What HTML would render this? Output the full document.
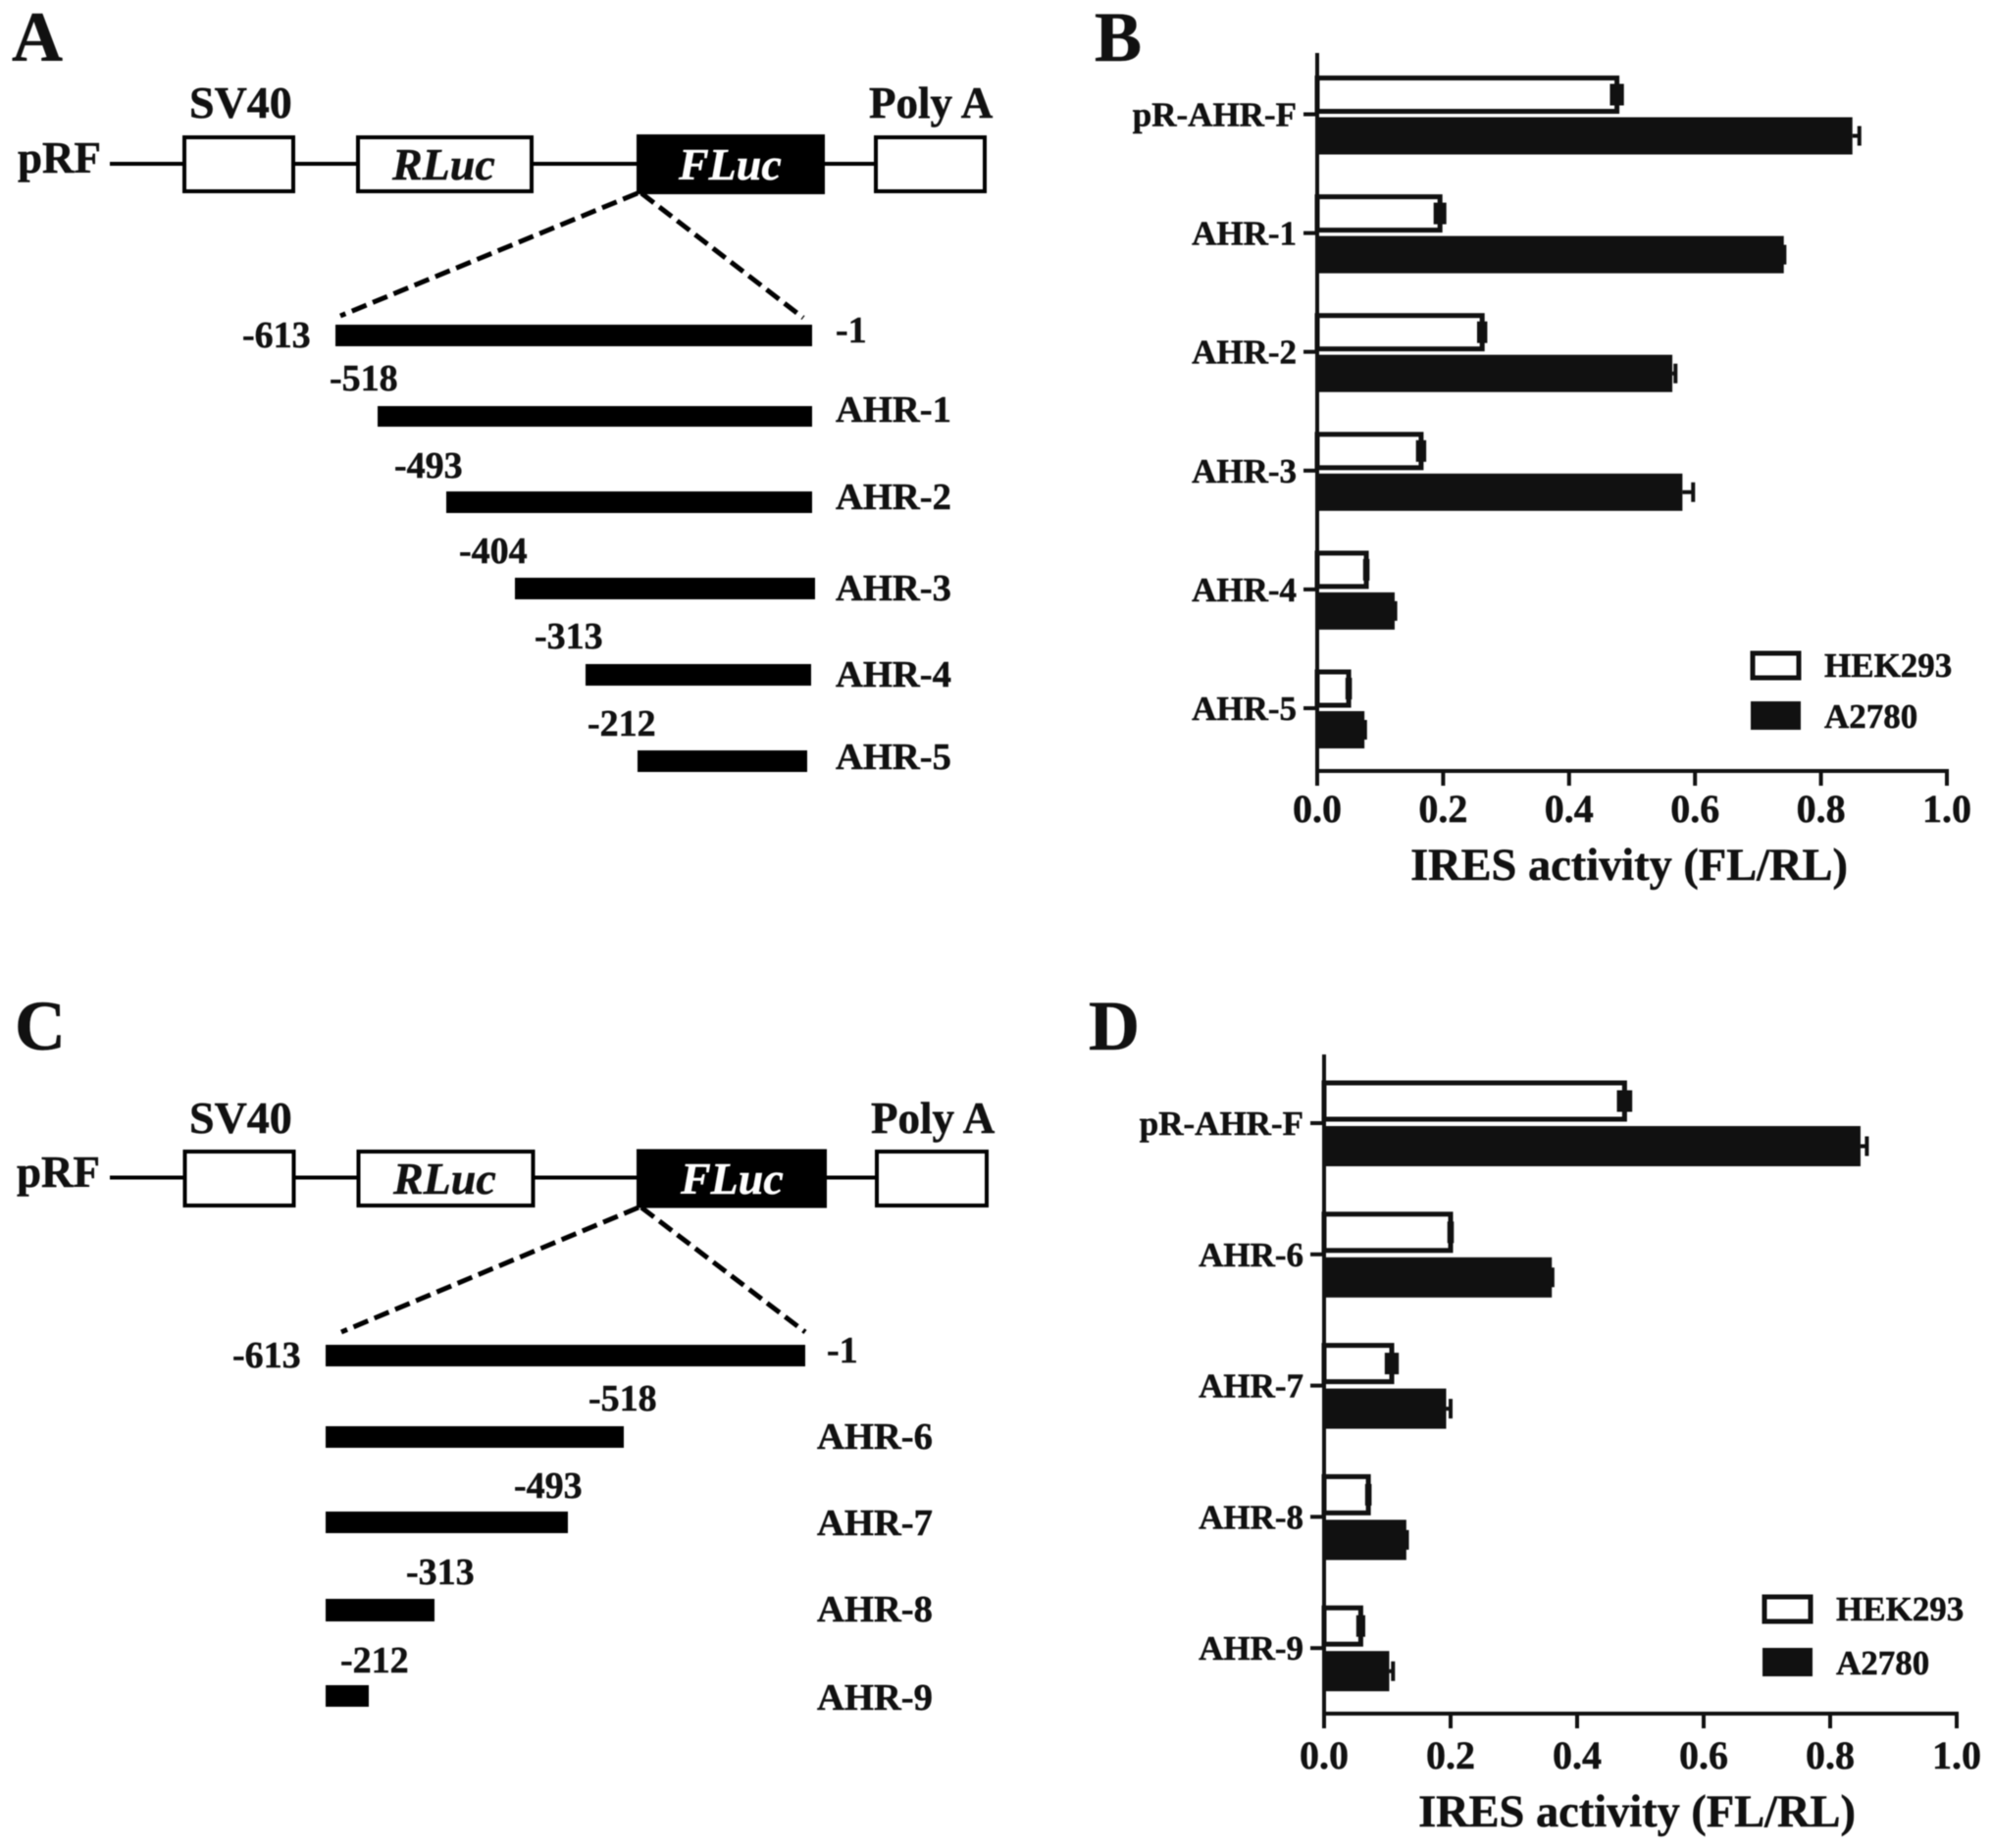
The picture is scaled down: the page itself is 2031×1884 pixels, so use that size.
<!DOCTYPE html>
<html>
<head>
<meta charset="utf-8">
<title>AHR IRES activity figure</title>
<style>
html,body{margin:0;padding:0;background:#fff;}
svg{display:block;filter:blur(.6px);}
text{font-family:"Liberation Serif",serif;font-weight:bold;fill:#111;stroke:#111;stroke-width:.5px;}
</style>
</head>
<body>
<svg id="fig" xmlns="http://www.w3.org/2000/svg" width="2031" height="1884" viewBox="0 0 2031 1884">
<rect x="0" y="0" width="2031" height="1884" fill="#fff"/>

<g>
<text x="12" y="62" font-size="72">A</text>
<text x="193" y="120" font-size="46">SV40</text>
<text x="886" y="120" font-size="45">Poly A</text>
<text x="18" y="176" font-size="45">pRF</text>
<line x1="112" y1="167" x2="895" y2="167" stroke="#000" stroke-width="4"/>
<rect x="188" y="140" width="111" height="55" fill="#fff" stroke="#000" stroke-width="4"/>
<rect x="365" y="140" width="177" height="55" fill="#fff" stroke="#000" stroke-width="4"/>
<rect x="649" y="137" width="192" height="61" fill="#000"/>
<rect x="893" y="140" width="111" height="55" fill="#fff" stroke="#000" stroke-width="4"/>
<text x="400" y="183" font-size="46" font-style="italic">RLuc</text>
<text x="692" y="183" font-size="46" font-style="italic" style="fill:#fff;stroke:#fff">FLuc</text>
<line x1="650" y1="197" x2="347" y2="322" stroke="#000" stroke-width="5" stroke-dasharray="16 7"/>
<line x1="654" y1="197" x2="819" y2="324" stroke="#000" stroke-width="5" stroke-dasharray="16 7"/>
<rect x="342" y="331" width="486" height="22" fill="#000"/>
<rect x="385" y="414" width="443" height="21" fill="#000"/>
<rect x="455" y="501" width="373" height="22" fill="#000"/>
<rect x="525" y="589" width="306" height="22" fill="#000"/>
<rect x="597" y="677" width="230" height="22" fill="#000"/>
<rect x="650" y="765" width="173" height="22" fill="#000"/>
<text x="247" y="354" font-size="38">-613</text>
<text x="852" y="349" font-size="38">-1</text>
<text x="336" y="398" font-size="38">-518</text>
<text x="852" y="430" font-size="38.6">AHR-1</text>
<text x="402" y="487" font-size="38">-493</text>
<text x="852" y="519" font-size="38.6">AHR-2</text>
<text x="468" y="574" font-size="38">-404</text>
<text x="852" y="612" font-size="38.6">AHR-3</text>
<text x="545" y="661" font-size="38">-313</text>
<text x="852" y="700" font-size="38.6">AHR-4</text>
<text x="599" y="750" font-size="38">-212</text>
<text x="852" y="784" font-size="38.6">AHR-5</text>
</g>

<g>
<text x="15" y="1070" font-size="72">C</text>
<text x="193" y="1155" font-size="46">SV40</text>
<text x="888" y="1155" font-size="45">Poly A</text>
<text x="17" y="1210" font-size="45">pRF</text>
<line x1="112" y1="1200.5" x2="896" y2="1200.5" stroke="#000" stroke-width="4"/>
<rect x="188.5" y="1174" width="111" height="55" fill="#fff" stroke="#000" stroke-width="4"/>
<rect x="365.5" y="1174" width="178" height="55" fill="#fff" stroke="#000" stroke-width="4"/>
<rect x="649" y="1171.5" width="194" height="60" fill="#000"/>
<rect x="894" y="1174" width="112" height="55" fill="#fff" stroke="#000" stroke-width="4"/>
<text x="401" y="1217" font-size="46" font-style="italic">RLuc</text>
<text x="694" y="1217" font-size="46" font-style="italic" style="fill:#fff;stroke:#fff">FLuc</text>
<line x1="651" y1="1231" x2="348" y2="1358" stroke="#000" stroke-width="5" stroke-dasharray="16 7"/>
<line x1="654" y1="1231" x2="821" y2="1358" stroke="#000" stroke-width="5" stroke-dasharray="16 7"/>
<rect x="332" y="1371" width="489" height="22" fill="#000"/>
<rect x="332" y="1454" width="304" height="22" fill="#000"/>
<rect x="332" y="1541" width="247" height="22" fill="#000"/>
<rect x="332" y="1630" width="111" height="23" fill="#000"/>
<rect x="332" y="1718" width="44" height="22" fill="#000"/>
<text x="237" y="1394" font-size="38">-613</text>
<text x="843" y="1389" font-size="38">-1</text>
<text x="600" y="1438" font-size="38">-518</text>
<text x="833" y="1477" font-size="38.6">AHR-6</text>
<text x="524" y="1527" font-size="38">-493</text>
<text x="833" y="1565" font-size="38.6">AHR-7</text>
<text x="414" y="1615" font-size="38">-313</text>
<text x="833" y="1653" font-size="38.6">AHR-8</text>
<text x="347" y="1705" font-size="38">-212</text>
<text x="833" y="1743" font-size="38.6">AHR-9</text>
</g>

<text x="1116" y="62" font-size="72">B</text>
<text x="1110" y="1070" font-size="72">D</text>
<g id="chart-b"></g>
<g id="chart-d"></g>
</svg>

<script>
// Panel B data
const catsB = ['pR-AHR-F', 'AHR-1', 'AHR-2', 'AHR-3', 'AHR-4', 'AHR-5'];
const hekB = [0.476, 0.195, 0.262, 0.165, 0.078, 0.050];
const a2780B = [0.850, 0.741, 0.564, 0.580, 0.123, 0.075];
const hekErrB = [0.008, 0.007, 0.005, 0.005, 0.002, 0.002];
const a2780ErrB = [0.011, 0.001, 0.005, 0.017, 0.001, 0.001];
// Panel D data
const catsD = ['pR-AHR-F', 'AHR-6', 'AHR-7', 'AHR-8', 'AHR-9'];
const hekD = [0.475, 0.200, 0.107, 0.070, 0.058];
const a2780D = [0.848, 0.360, 0.193, 0.130, 0.103];
const hekErrD = [0.009, 0.002, 0.008, 0.002, 0.004];
const a2780ErrD = [0.010, 0.001, 0.007, 0.001, 0.006];
// Shared axis
const xTicks = [0.0, 0.2, 0.4, 0.6, 0.8, 1.0];
const xTitle = 'IRES activity (FL/RL)';
const legendLabels = ['HEK293', 'A2780'];

const NS = 'http://www.w3.org/2000/svg';
function mk(parent, tag, attrs, txt) {
  const e = document.createElementNS(NS, tag);
  for (const k in attrs) e.setAttribute(k, attrs[k]);
  if (txt !== undefined) e.textContent = txt;
  parent.appendChild(e);
  return e;
}

function drawChart(rootId, cfg, cats, hek, a2780, hekErr, a2780Err) {
  const root = document.getElementById(rootId);
  const xs = v => cfg.x0 + (cfg.x1 - cfg.x0) * v;
  const ys = i => cfg.firstTick + cfg.step * i;
  const ink = '#111';

  cats.forEach((c, i) => {
    const t = mk(root, 'text', {x: cfg.x0 - 21, y: ys(i) + 12, 'font-size': 35, 'text-anchor': 'end'}, c);
    
    

    const tick = mk(root, 'line', {x1: cfg.x0 - 14, x2: cfg.x0, y1: ys(i), y2: ys(i), stroke: ink, 'stroke-width': 4});
    
    

    const wBar = mk(root, 'rect', {x: cfg.x0, y: ys(i) + cfg.hekTop + 2, width: xs(hek[i]) - cfg.x0, height: cfg.barH - 4, fill: '#fff', stroke: ink, 'stroke-width': 5});
    
    

    const bBar = mk(root, 'rect', {x: cfg.x0, y: ys(i) + cfg.aTop, width: xs(a2780[i]) - cfg.x0, height: cfg.barH, fill: ink});
    
    

    const hy = ys(i) + cfg.hekTop + cfg.barH / 2;
    const hLo = xs(hek[i] - hekErr[i]);
    const hHi = xs(hek[i] + hekErr[i]);
    const he = mk(root, 'rect', {x: hLo - 2, y: hy - 11, width: hHi - hLo + 4, height: 22, fill: ink});
    
    

    const ay = ys(i) + cfg.aTop + cfg.barH / 2;
    const aHi = xs(a2780[i] + a2780Err[i]);
    const ae = mk(root, 'path', {d: 'M' + xs(a2780[i]) + ' ' + ay + 'H' + aHi + 'M' + aHi + ' ' + (ay - 10) + 'v20', stroke: ink, 'stroke-width': 4, fill: 'none'});
    
    
  });

  const yAxis = mk(root, 'line', {x1: cfg.x0, x2: cfg.x0, y1: cfg.top, y2: cfg.bottom + 15, stroke: ink, 'stroke-width': 4});
  
  

  const xAxis = mk(root, 'line', {x1: cfg.x0, x2: cfg.x1 + 2, y1: cfg.bottom, y2: cfg.bottom, stroke: ink, 'stroke-width': 4});
  
  

  xTicks.forEach(v => {
    const tl = mk(root, 'line', {x1: xs(v), x2: xs(v), y1: cfg.bottom, y2: cfg.bottom + 15, stroke: ink, 'stroke-width': 4});
    
    

    const lb = mk(root, 'text', {x: xs(v), y: cfg.bottom + cfg.labelDy, 'font-size': 40, 'text-anchor': 'middle'}, v.toFixed(1));
    
    
  });

  const title = mk(root, 'text', {x: cfg.titleX, y: cfg.titleY, 'font-size': 46.4, 'text-anchor': 'middle'}, xTitle);
  
  

  const sw1 = mk(root, 'rect', {x: cfg.legX + 2, y: cfg.leg1 + 2, width: 47, height: 25, fill: '#fff', stroke: ink, 'stroke-width': 5});
  
  

  const sw2 = mk(root, 'rect', {x: cfg.legX, y: cfg.leg2, width: 51, height: 29, fill: ink});
  
  

  const l1 = mk(root, 'text', {x: cfg.legX + 75, y: cfg.leg1 + 26, 'font-size': 35}, legendLabels[0]);
  
  

  const l2 = mk(root, 'text', {x: cfg.legX + 75, y: cfg.leg2 + 27, 'font-size': 35}, legendLabels[1]);
  
  
}

drawChart('chart-b', {x0: 1343, x1: 1985, top: 54, bottom: 786, firstTick: 116.5, step: 121.1, hekTop: -39, aTop: 3, barH: 38, labelDy: 52, titleX: 1661, titleY: 897, legX: 1785, leg1: 664, leg2: 715}, catsB, hekB, a2780B, hekErrB, a2780ErrB);
drawChart('chart-d', {x0: 1350, x1: 1995, top: 1075, bottom: 1747, firstTick: 1145, step: 133.8, hekTop: -43, aTop: 3, barH: 41, labelDy: 56, titleX: 1669, titleY: 1862, legX: 1797, leg1: 1626, leg2: 1680}, catsD, hekD, a2780D, hekErrD, a2780ErrD);
</script>
</body>
</html>
